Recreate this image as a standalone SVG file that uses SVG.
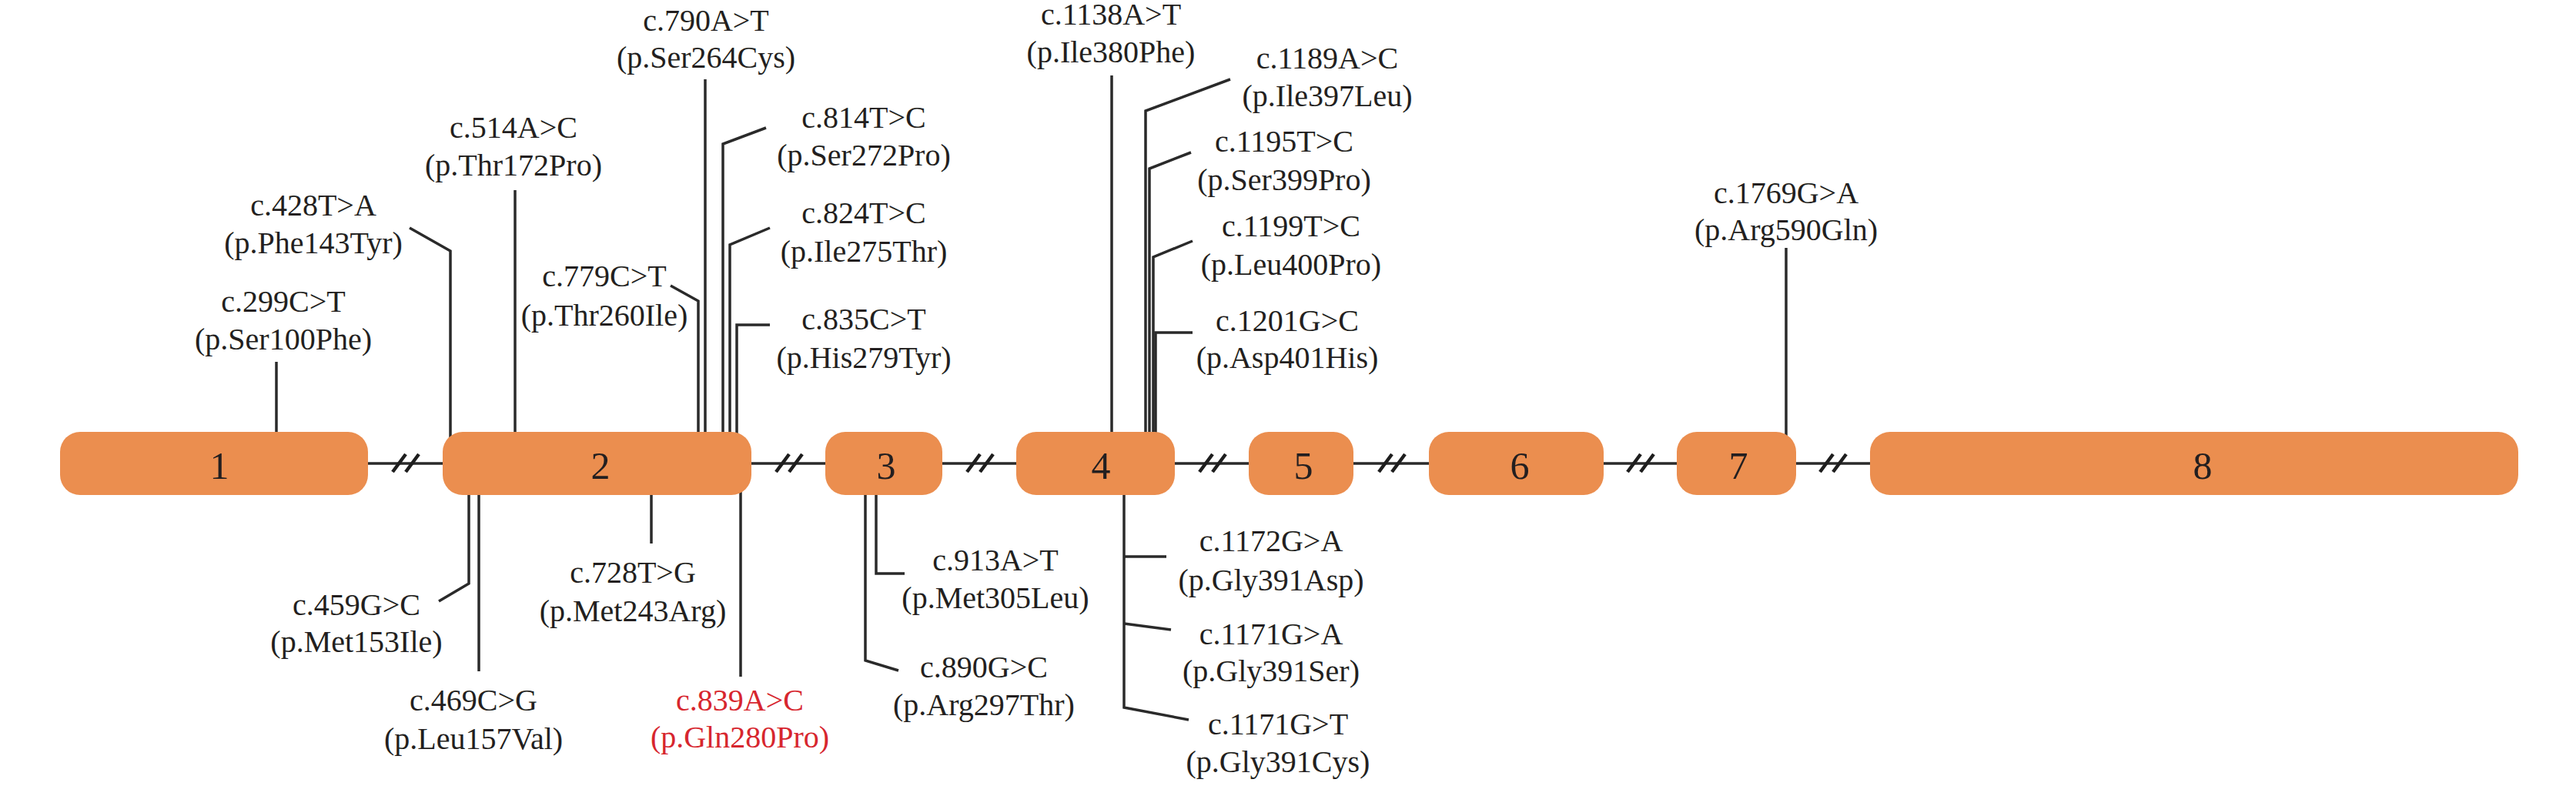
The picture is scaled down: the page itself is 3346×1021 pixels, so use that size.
<svg xmlns="http://www.w3.org/2000/svg" width="3346" height="1021" viewBox="0 0 3346 1021">
<style>
.ex{fill:#EB8E4F}
.num{font-family:"Liberation Serif","Times New Roman",serif;font-size:50px;fill:#231f20;text-anchor:middle}
.lb{font-family:"Liberation Serif","Times New Roman",serif;font-size:40px;fill:#231f20;text-anchor:middle}
.red{fill:#d7262e}
.ln{fill:none;stroke:#2a2a2a;stroke-width:3.5;stroke-linejoin:miter}
.br{fill:none;stroke:#1e1e1e;stroke-width:4.5}
</style>
<rect width="3346" height="1021" fill="#ffffff"/>
<g id="connectors">
<path class="ln" d="M478,602H2429"/>
<path class="br" d="M510,613L527,590M527,613L544,590"/>
<path class="br" d="M1008,613L1025,590M1025,613L1042,590"/>
<path class="br" d="M1256,613L1273,590M1273,613L1290,590"/>
<path class="br" d="M1558,613L1575,590M1575,613L1592,590"/>
<path class="br" d="M1791,613L1808,590M1808,613L1825,590"/>
<path class="br" d="M2114,613L2131,590M2131,613L2148,590"/>
<path class="br" d="M2364,613L2381,590M2381,613L2398,590"/>
<path class="ln" d="M359,470V580"/>
<path class="ln" d="M532,296L585,326V580"/>
<path class="ln" d="M570,781L609,758V620"/>
<path class="ln" d="M622,620V872"/>
<path class="ln" d="M669,247V580"/>
<path class="ln" d="M871,371L907,391V580"/>
<path class="ln" d="M916,103V580"/>
<path class="ln" d="M995,166L939,187V580"/>
<path class="ln" d="M1000,296L948,318V580"/>
<path class="ln" d="M1000,422H957V580"/>
<path class="ln" d="M846,620V706"/>
<path class="ln" d="M962,620V879"/>
<path class="ln" d="M1138,620V745H1175"/>
<path class="ln" d="M1124,620V858L1167,871"/>
<path class="ln" d="M1444,98V580"/>
<path class="ln" d="M1598,103L1488,144V580"/>
<path class="ln" d="M1547,198L1493,219V580"/>
<path class="ln" d="M1549,313L1498,334V580"/>
<path class="ln" d="M1549,432H1501V580"/>
<path class="ln" d="M1460,620V919L1544,935"/>
<path class="ln" d="M1460,723H1515"/>
<path class="ln" d="M1460,810L1521,818"/>
<path class="ln" d="M2320,322V580"/>
</g>
<g id="exon1"><rect class="ex" x="78" y="561" width="400" height="82" rx="26"/><text class="num" x="285" y="622">1</text></g>
<g id="exon2"><rect class="ex" x="575" y="561" width="401" height="82" rx="26"/><text class="num" x="780" y="622">2</text></g>
<g id="exon3"><rect class="ex" x="1072" y="561" width="152" height="82" rx="26"/><text class="num" x="1151" y="622">3</text></g>
<g id="exon4"><rect class="ex" x="1320" y="561" width="206" height="82" rx="26"/><text class="num" x="1430" y="622">4</text></g>
<g id="exon5"><rect class="ex" x="1622" y="561" width="136" height="82" rx="26"/><text class="num" x="1693" y="622">5</text></g>
<g id="exon6"><rect class="ex" x="1856" y="561" width="227" height="82" rx="26"/><text class="num" x="1974" y="622">6</text></g>
<g id="exon7"><rect class="ex" x="2178" y="561" width="155" height="82" rx="26"/><text class="num" x="2258" y="622">7</text></g>
<g id="exon8"><rect class="ex" x="2429" y="561" width="842" height="82" rx="26"/><text class="num" x="2861" y="622">8</text></g>
<g id="m299"><text class="lb" x="368" y="405">c.299C&gt;T</text><text class="lb" x="368" y="454">(p.Ser100Phe)</text></g>
<g id="m428"><text class="lb" x="407" y="280">c.428T&gt;A</text><text class="lb" x="407" y="329">(p.Phe143Tyr)</text></g>
<g id="m459"><text class="lb" x="463" y="799">c.459G&gt;C</text><text class="lb" x="463" y="847">(p.Met153Ile)</text></g>
<g id="m469"><text class="lb" x="615" y="923">c.469C&gt;G</text><text class="lb" x="615" y="973">(p.Leu157Val)</text></g>
<g id="m514"><text class="lb" x="667" y="179">c.514A&gt;C</text><text class="lb" x="667" y="228">(p.Thr172Pro)</text></g>
<g id="m779"><text class="lb" x="785" y="372">c.779C&gt;T</text><text class="lb" x="785" y="423">(p.Thr260Ile)</text></g>
<g id="m790"><text class="lb" x="917" y="40">c.790A&gt;T</text><text class="lb" x="917" y="88">(p.Ser264Cys)</text></g>
<g id="m814"><text class="lb" x="1122" y="166">c.814T&gt;C</text><text class="lb" x="1122" y="215">(p.Ser272Pro)</text></g>
<g id="m824"><text class="lb" x="1122" y="290">c.824T&gt;C</text><text class="lb" x="1122" y="340">(p.Ile275Thr)</text></g>
<g id="m835"><text class="lb" x="1122" y="428">c.835C&gt;T</text><text class="lb" x="1122" y="478">(p.His279Tyr)</text></g>
<g id="m728"><text class="lb" x="822" y="757">c.728T&gt;G</text><text class="lb" x="822" y="807">(p.Met243Arg)</text></g>
<g id="m839"><text class="lb red" x="961" y="923">c.839A&gt;C</text><text class="lb red" x="961" y="971">(p.Gln280Pro)</text></g>
<g id="m913"><text class="lb" x="1293" y="741">c.913A&gt;T</text><text class="lb" x="1293" y="790">(p.Met305Leu)</text></g>
<g id="m890"><text class="lb" x="1278" y="880">c.890G&gt;C</text><text class="lb" x="1278" y="929">(p.Arg297Thr)</text></g>
<g id="m1138"><text class="lb" x="1443" y="32">c.1138A&gt;T</text><text class="lb" x="1443" y="81">(p.Ile380Phe)</text></g>
<g id="m1189"><text class="lb" x="1724" y="89">c.1189A&gt;C</text><text class="lb" x="1724" y="138">(p.Ile397Leu)</text></g>
<g id="m1195"><text class="lb" x="1668" y="197">c.1195T&gt;C</text><text class="lb" x="1668" y="247">(p.Ser399Pro)</text></g>
<g id="m1199"><text class="lb" x="1677" y="307">c.1199T&gt;C</text><text class="lb" x="1677" y="357">(p.Leu400Pro)</text></g>
<g id="m1201"><text class="lb" x="1672" y="430">c.1201G&gt;C</text><text class="lb" x="1672" y="478">(p.Asp401His)</text></g>
<g id="m1172"><text class="lb" x="1651" y="716">c.1172G&gt;A</text><text class="lb" x="1651" y="767">(p.Gly391Asp)</text></g>
<g id="m1171a"><text class="lb" x="1651" y="837">c.1171G&gt;A</text><text class="lb" x="1651" y="885">(p.Gly391Ser)</text></g>
<g id="m1171t"><text class="lb" x="1660" y="954">c.1171G&gt;T</text><text class="lb" x="1660" y="1003">(p.Gly391Cys)</text></g>
<g id="m1769"><text class="lb" x="2320" y="264">c.1769G&gt;A</text><text class="lb" x="2320" y="312">(p.Arg590Gln)</text></g>
</svg>
